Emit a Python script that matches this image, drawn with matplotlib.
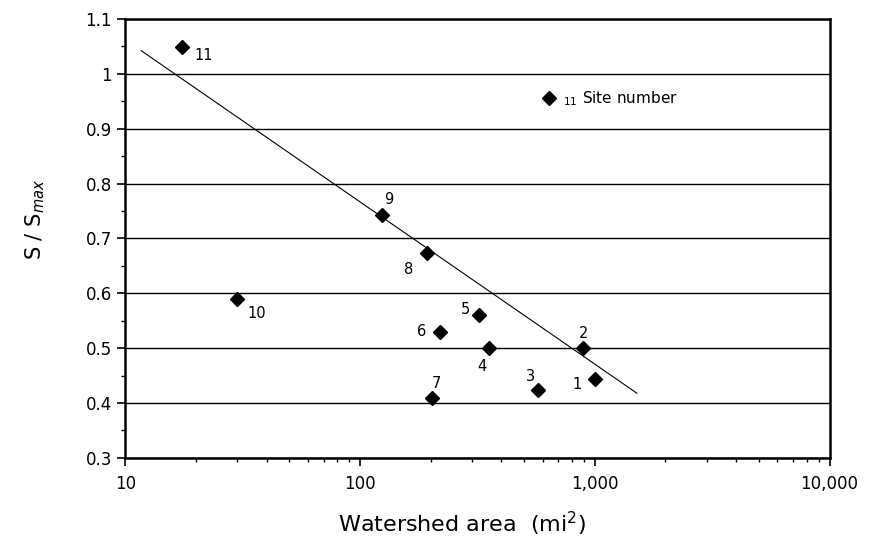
import matplotlib
matplotlib.use("Agg")
import matplotlib.pyplot as plt
from matplotlib.ticker import FixedLocator, FuncFormatter, LogLocator, MultipleLocator
from matplotlib.lines import Line2D

# site data
sites = [1, 2, 3, 4, 5, 6, 7, 8, 9, 10, 11]
area_mi2 = [1000, 890, 574, 354, 321, 220, 203, 193, 124, 30, 17.4]
s_ratio = [0.443, 0.50, 0.423, 0.50, 0.56, 0.53, 0.41, 0.673, 0.742, 0.59, 1.049]

# fitted trend line (end points)
trend_x = [11.7, 1510]
trend_y = [1.042, 0.418]

y_ticks = [0.3, 0.4, 0.5, 0.6, 0.7, 0.8, 0.9, 1.0, 1.1]
x_ticks = [10, 100, 1000, 10000]

# label offsets in pixels (dx, dy) for each site number
label_off = {1: (-18, -5), 2: (1, 15), 3: (-8, 14), 4: (-7, -18), 5: (-14, 6),
             6: (-19, 0), 7: (4, 14), 8: (-18, -16), 9: (7, 16), 10: (19, -15),
             11: (22, -9)}

plt.rcParams['font.family'] = ['DejaVu Sans']
plt.rcParams['mathtext.fontset'] = 'custom'
plt.rcParams['mathtext.rm'] = 'DejaVu Sans'
plt.rcParams['mathtext.it'] = 'DejaVu Sans:italic'

fig = plt.figure(figsize=(8.76, 5.4), dpi=100)
ax = fig.add_axes([0.143, 0.152, 0.804, 0.813])

# horizontal grid lines
for yv in y_ticks:
    ax.axhline(yv, color='black', lw=1.0, zorder=1)

ax.plot(trend_x, trend_y, color='black', lw=0.8, zorder=2)
ax.plot(area_mi2, s_ratio, ls='none', marker='D', ms=7.5, color='black', zorder=3)

for s, xv, yv in zip(sites, area_mi2, s_ratio):
    dx, dy = label_off[s]
    ax.annotate(str(s), (xv, yv), xytext=(dx, dy), textcoords='offset pixels',
                ha='center', va='center', fontsize=10.5)

ax.set_xscale('log')
ax.set_xlim(10, 10000)
ax.set_ylim(0.3, 1.1)
ax.xaxis.set_major_locator(FixedLocator(x_ticks))
ax.xaxis.set_major_formatter(FuncFormatter(lambda v, p: f"{v:,.0f}"))
ax.xaxis.set_minor_locator(LogLocator(base=10, subs=range(2, 10)))
ax.yaxis.set_major_locator(FixedLocator(y_ticks))
ax.yaxis.set_major_formatter(FuncFormatter(lambda v, p: f"{v:g}"))
ax.yaxis.set_minor_locator(MultipleLocator(0.05))
ax.tick_params(which='major', direction='out', length=6, width=1.2, labelsize=12, colors='black')
ax.tick_params(which='minor', direction='out', length=3, width=1.0)
ax.tick_params(axis='x', pad=6)

for sp in ax.spines.values():
    sp.set_linewidth(1.8)
    sp.set_color('black')

ax.set_xlabel("Watershed area  (mi$^2$)", fontsize=16)
ax.set_ylabel(r"S / S$_{\mathit{max}}$", fontsize=15)
ax.xaxis.set_label_coords(0.478, -0.118)
ax.yaxis.set_label_coords(-0.111, 0.542)

key = Line2D([], [], ls='none', marker='D', ms=7, color='black')
ax.legend([key], [r"$_{11}$ Site number"], loc='center left', bbox_to_anchor=(0.591, 0.818),
          frameon=False, fontsize=11, handlelength=1.0, handletextpad=0.4,
          borderpad=0, borderaxespad=0)

fig.savefig("out.png", dpi=100)
